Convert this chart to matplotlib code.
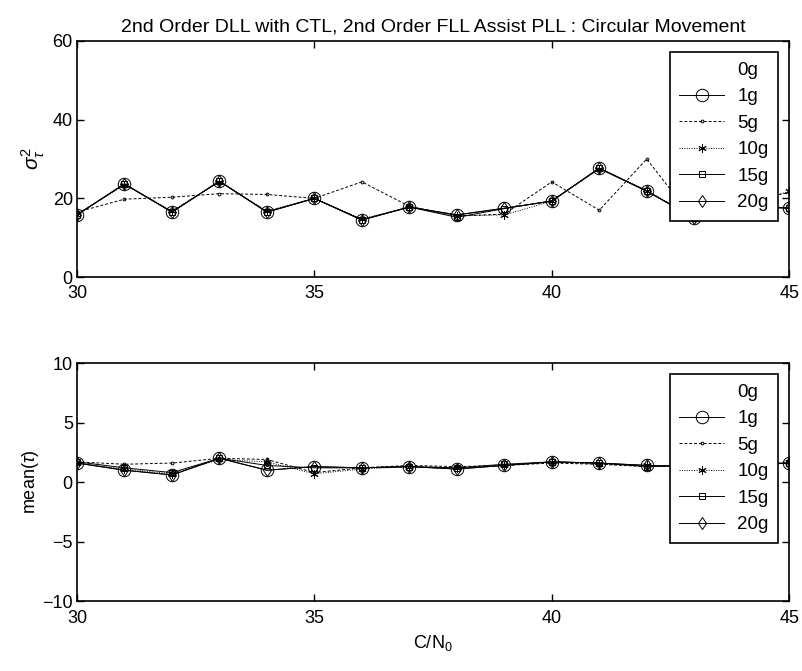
import numpy as np
import matplotlib
matplotlib.use('Agg')
import matplotlib.pyplot as plt

plt.rcParams['font.family'] = ['Liberation Sans', 'DejaVu Sans']
plt.rcParams['mathtext.fontset'] = 'custom'
plt.rcParams['mathtext.rm'] = 'Liberation Sans'
plt.rcParams['mathtext.it'] = 'Liberation Sans:italic'

# 数据
cn0 = [30, 31, 32, 33, 34, 35, 36, 37, 38, 39, 40, 41, 42, 43, 44, 45]
labels = ['0g', '1g', '5g', '10g', '15g', '20g']

# 方差 (上图)
var_0g = [15.8, 23.7, 16.5, 24.4, 16.5, 20.0, 14.5, 17.8, 15.8, 17.5, 19.3, 27.7, 21.9, 15.0, 18.0, 17.5]
var_1g = [15.8, 23.7, 16.5, 24.4, 16.5, 20.0, 14.5, 17.8, 15.8, 17.5, 19.3, 27.7, 21.9, 15.0, 18.0, 17.5]
var_5g = [16.5, 19.8, 20.3, 21.2, 21.0, 20.0, 24.2, 18.0, 15.5, 16.0, 24.2, 17.0, 30.0, 14.5, 19.0, 21.5]
var_10g = [15.8, 23.5, 16.8, 24.2, 16.8, 20.0, 14.8, 17.8, 15.6, 15.8, 19.3, 27.5, 22.0, 15.2, 18.2, 21.8]
var_15g = [15.9, 23.6, 16.6, 24.3, 16.6, 20.0, 14.6, 17.8, 15.2, 17.4, 19.4, 27.6, 21.8, 15.1, 18.1, 17.6]
var_20g = [15.8, 23.7, 16.5, 24.4, 16.5, 20.0, 14.5, 17.8, 15.8, 17.5, 19.3, 27.7, 21.9, 15.0, 18.0, 17.5]

# 均值 (下图)
mean_0g = [1.6, 1.0, 0.6, 2.0, 1.0, 1.3, 1.2, 1.3, 1.1, 1.4, 1.7, 1.6, 1.4, 1.3, 1.4, 1.6]
mean_1g = [1.6, 1.0, 0.6, 2.0, 1.0, 1.3, 1.2, 1.3, 1.1, 1.4, 1.7, 1.6, 1.4, 1.3, 1.4, 1.6]
mean_5g = [1.7, 1.5, 1.6, 2.0, 1.9, 0.8, 1.2, 1.4, 1.3, 1.4, 1.6, 1.5, 1.3, 1.4, 1.5, 1.6]
mean_10g = [1.6, 1.1, 0.7, 1.9, 1.7, 0.7, 1.1, 1.3, 1.2, 1.4, 1.7, 1.5, 1.4, 1.3, 1.4, 1.7]
mean_15g = [1.7, 1.2, 0.8, 2.0, 1.4, 1.2, 1.2, 1.3, 1.2, 1.5, 1.7, 1.6, 1.3, 1.4, 1.4, 1.6]
mean_20g = [1.6, 1.0, 0.6, 2.0, 1.0, 1.3, 1.2, 1.3, 1.1, 1.4, 1.7, 1.6, 1.4, 1.3, 1.4, 1.6]

# 线型: 0g 在扫描图中不可见
styles = [
    dict(linestyle='none', marker='none'),
    dict(linestyle='-', marker='o', markersize=9),
    dict(linestyle=(0, (3, 2)), marker='.', markersize=4),
    dict(linestyle=(0, (1, 1.5)), marker=(6, 2, 0), markersize=6),
    dict(linestyle='-', marker='s', markersize=5),
    dict(linestyle='-', marker='d', markersize=6),
]


def draw(ax, series):
    for y, lab, st in zip(series, labels, styles):
        ax.plot(cn0, y, color='black', linewidth=0.7,
                markerfacecolor='none', markeredgewidth=0.7, label=lab, **st)
    ax.set_xlim(30, 45)
    ax.set_xticks([30, 35, 40, 45])
    ax.tick_params(direction='in', top=True, right=True, labelsize=13,
                   length=5, width=1, pad=3)
    ax.tick_params(axis='x', pad=6)
    for sp in ax.spines.values():
        sp.set_linewidth(1.2)
    leg = ax.legend(loc='upper right', fontsize=13.5, frameon=True, fancybox=False,
                    edgecolor='black', framealpha=1, handlelength=2.4,
                    handletextpad=0.7, labelspacing=0.5, borderaxespad=0.6,
                    borderpad=0.5)
    leg.get_frame().set_linewidth(1.2)


fig = plt.figure(figsize=(8.02, 6.71), dpi=100)

ax1 = fig.add_axes([0.096, 0.587, 0.888, 0.352])
draw(ax1, [var_0g, var_1g, var_5g, var_10g, var_15g, var_20g])
ax1.set_ylim(0, 60)
ax1.set_yticks([0, 20, 40, 60])
ax1.set_ylabel(r'$\sigma^2_\tau$', fontsize=15, labelpad=4)
ax1.set_title('2nd Order DLL with CTL, 2nd Order FLL Assist PLL : Circular Movement',
              fontsize=14, pad=7)

ax2 = fig.add_axes([0.096, 0.104, 0.888, 0.355])
draw(ax2, [mean_0g, mean_1g, mean_5g, mean_10g, mean_15g, mean_20g])
ax2.set_ylim(-10, 10)
ax2.set_yticks([-10, -5, 0, 5, 10])
ax2.set_ylabel(r'mean($\tau$)', fontsize=13, labelpad=1)
ax2.set_xlabel(r'C/N$_0$', fontsize=13, labelpad=5)

fig.savefig('out.png', dpi=100)
